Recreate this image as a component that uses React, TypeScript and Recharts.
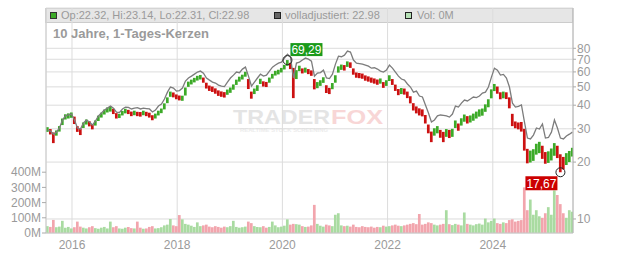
import React from "react";
import {
  ComposedChart,
  Bar,
  Line,
  XAxis,
  YAxis,
  CartesianGrid,
  ReferenceDot,
  Cell,
} from "recharts";

// ---- data (~3-week buckets) ----
const closes = [
  29.6, 28.8, 27.1, 28.5, 29.9, 33.0, 34.6, 35.1, 35.5, 32.6,
  29.6, 29.2, 31.4, 32.6, 31.8, 30.6, 32.2, 34.2, 35.5, 36.8,
  37.7, 38.2, 36.8, 35.1, 35.1, 36.4, 37.3, 36.8, 35.9, 36.4,
  35.9, 35.7, 36.4, 35.9, 35.5, 34.2, 35.1, 36.4, 37.3, 39.6,
  42.6, 45.8, 45.3, 44.2, 43.6, 43.6, 48.1, 51.8, 53.0, 54.3,
  55.7, 56.3, 54.3, 50.5, 49.3, 48.7, 47.5, 46.4, 45.8, 45.3,
  46.9, 48.1, 49.9, 53.0, 55.0, 56.3, 58.4, 50.5, 44.7, 47.5,
  49.3, 53.7, 51.8, 51.5, 54.3, 57.0, 59.1, 59.9, 61.3, 63.6,
  66.8, 64.4, 51.1, 59.1, 62.8, 60.6, 61.3, 60.2, 59.1, 50.5,
  51.1, 52.4, 54.3, 48.1, 47.5, 50.5, 55.0, 62.1, 63.6, 63.2,
  66.0, 65.2, 59.9, 57.7, 57.4, 57.0, 55.7, 55.0, 54.3, 53.7,
  53.0, 53.7, 51.1, 52.4, 55.7, 53.0, 49.3, 46.9, 47.5, 47.2,
  45.3, 42.6, 39.1, 37.7, 36.8, 36.4, 33.4, 29.6, 27.5, 28.8,
  29.6, 28.1, 27.5, 28.5, 28.1, 28.5, 31.8, 30.6, 32.6, 34.2,
  33.4, 33.8, 34.6, 35.5, 36.4, 36.8, 38.6, 41.0, 46.4, 49.9,
  48.1, 44.7, 45.3, 44.9, 40.6, 32.2, 31.4, 31.0, 30.6, 26.2,
  20.8, 21.0, 21.5, 23.2, 23.7, 22.1, 20.8, 21.0, 21.8, 23.2,
  22.6, 19.8, 19.5, 20.8, 21.3, 22.98,
];

const highs = [
  30.6, 29.9, 28.7, 29.4, 31.0, 34.0, 35.8, 36.2, 36.6, 34.8,
  31.0, 30.1, 32.4, 33.6, 32.9, 31.7, 33.2, 35.2, 36.5, 37.9,
  38.9, 39.4, 38.3, 36.3, 36.0, 37.3, 38.3, 37.8, 37.0, 37.4,
  36.9, 36.8, 37.4, 36.9, 36.5, 35.4, 36.1, 37.4, 38.4, 40.9,
  44.0, 47.2, 46.7, 45.6, 45.0, 44.9, 49.6, 53.3, 54.6, 55.8,
  57.2, 57.8, 56.0, 52.6, 50.8, 50.2, 49.1, 47.9, 47.3, 46.9,
  48.4, 49.6, 51.5, 54.6, 56.6, 58.0, 60.1, 55.0, 47.2, 49.0,
  51.0, 55.2, 53.5, 53.1, 56.0, 58.6, 60.8, 61.6, 63.0, 65.4,
  69.29, 67.0, 63.0, 61.3, 64.7, 62.6, 63.2, 62.1, 61.1, 55.0,
  53.0, 54.2, 56.2, 51.0, 49.4, 52.4, 57.6, 64.2, 65.6, 65.2,
  68.2, 67.4, 62.6, 59.6, 59.2, 58.8, 57.5, 56.8, 56.0, 55.4,
  54.7, 55.4, 53.0, 54.2, 57.6, 55.0, 51.4, 48.7, 49.3, 49.0,
  47.2, 44.6, 41.0, 39.4, 38.5, 38.0, 35.5, 31.6, 29.0, 30.2,
  31.0, 29.6, 28.9, 29.9, 29.6, 30.0, 33.2, 32.0, 34.1, 35.7,
  35.0, 35.3, 36.1, 37.0, 38.0, 38.4, 40.4, 43.0, 48.5, 51.8,
  50.2, 46.8, 47.2, 46.8, 44.0, 36.0, 32.8, 32.4, 32.6, 30.0,
  23.5, 23.0, 23.4, 25.0, 25.6, 24.4, 22.6, 22.8, 23.6, 25.2,
  24.4, 22.0, 21.3, 22.3, 22.9, 23.8,
];

const lows = [
  28.9, 28.0, 25.2, 27.6, 29.0, 31.4, 33.6, 34.0, 34.3, 31.8,
  28.9, 27.8, 30.3, 31.6, 30.9, 29.8, 31.2, 33.0, 34.4, 35.7,
  36.6, 37.0, 35.9, 34.0, 34.2, 35.3, 36.2, 35.9, 35.0, 35.4,
  35.0, 34.8, 35.4, 35.0, 34.4, 33.3, 34.0, 35.3, 36.3, 38.0,
  41.0, 44.3, 44.0, 43.0, 42.4, 42.2, 45.0, 50.0, 51.5, 52.8,
  54.0, 54.7, 52.6, 49.0, 47.6, 47.0, 46.0, 44.8, 44.3, 43.9,
  45.4, 46.5, 48.3, 51.2, 53.3, 54.7, 56.6, 48.7, 43.3, 45.8,
  47.6, 51.8, 50.2, 49.9, 52.6, 55.3, 57.4, 58.2, 59.6, 61.8,
  64.6, 62.1, 43.6, 55.0, 60.6, 58.9, 59.5, 58.4, 57.2, 48.5,
  49.2, 50.6, 52.5, 46.4, 45.8, 48.6, 52.6, 59.5, 61.5, 61.0,
  63.8, 63.0, 58.0, 55.9, 55.6, 55.2, 53.9, 53.3, 52.6, 52.0,
  51.3, 52.0, 49.4, 50.6, 53.7, 51.2, 47.6, 45.2, 45.8, 45.5,
  43.6, 40.9, 37.5, 36.2, 35.3, 34.9, 32.0, 28.4, 25.5, 27.6,
  28.4, 26.9, 25.5, 27.2, 26.8, 27.2, 30.3, 29.3, 31.2, 32.7,
  32.0, 32.4, 33.1, 34.0, 34.8, 35.2, 36.9, 39.0, 43.5, 47.5,
  46.0, 43.0, 43.5, 43.1, 38.5, 31.0, 30.2, 29.8, 29.0, 23.0,
  19.7, 19.9, 20.3, 21.9, 22.3, 20.8, 19.6, 19.8, 20.4, 21.6,
  21.0, 17.67, 18.3, 19.3, 20.0, 21.4,
];

const adjusted = [
  29.6, 29.2, 28.1, 28.8, 30.3, 33.4, 35.1, 35.5, 35.9, 33.4,
  30.3, 29.9, 32.2, 33.4, 32.6, 31.4, 33.0, 35.1, 36.4, 37.7,
  38.6, 39.6, 38.6, 36.8, 36.6, 38.2, 39.1, 38.9, 38.2, 38.6,
  38.8, 38.2, 38.6, 38.4, 38.2, 36.8, 37.7, 39.6, 40.6, 43.1,
  46.9, 49.9, 49.3, 47.5, 47.8, 49.3, 53.7, 55.7, 57.0, 58.4,
  59.9, 60.6, 59.1, 55.7, 54.3, 53.0, 52.4, 51.1, 50.5, 50.2,
  53.0, 55.7, 57.7, 59.9, 59.4, 62.1, 63.6, 57.0, 50.5, 53.0,
  55.7, 58.4, 57.0, 57.7, 60.6, 63.6, 65.2, 66.8, 67.6, 71.0,
  74.5, 71.9, 55.7, 66.8, 67.6, 69.3, 71.0, 70.1, 68.4, 57.0,
  59.1, 59.5, 61.3, 55.7, 55.3, 58.4, 66.0, 72.7, 72.2, 73.6,
  77.3, 76.4, 69.3, 66.8, 66.4, 66.0, 65.2, 64.4, 62.8, 63.1,
  62.1, 60.6, 59.9, 61.3, 65.2, 62.8, 59.9, 57.0, 55.0, 54.3,
  51.8, 49.9, 46.9, 47.5, 44.7, 44.2, 40.1, 36.4, 32.6, 33.4,
  35.1, 35.5, 35.3, 35.1, 34.6, 35.9, 39.6, 39.1, 41.0, 42.6,
  42.1, 43.1, 44.2, 43.9, 44.7, 46.4, 46.9, 49.9, 56.3, 62.8,
  61.3, 57.7, 58.2, 55.7, 49.9, 41.0, 39.1, 39.4, 40.1, 32.6,
  26.8, 26.5, 27.8, 30.3, 29.9, 31.8, 26.8, 27.0, 28.8, 33.4,
  30.3, 26.8, 26.5, 27.5, 28.1, 28.8,
];

// volume in millions
const volumes = [
  45, 40, 86, 38, 42, 80, 35, 40, 30, 38,
  75, 42, 35, 30, 38, 45, 32, 28, 35, 40,
  30, 75, 38, 45, 30, 28, 35, 40, 32, 30,
  75, 35, 28, 30, 40, 45, 30, 32, 38, 50,
  55, 92, 50, 45, 118, 90, 60, 55, 48, 40,
  70, 45, 50, 55, 42, 38, 45, 40, 35, 42,
  38, 45, 80, 40, 35, 38, 42, 75, 65, 45,
  40, 38, 45, 35, 40, 75, 50, 38, 42, 48,
  90, 55, 60, 58, 55, 45, 40, 42, 50, 185,
  60, 48, 42, 55, 50, 45, 120, 130, 50, 45,
  48, 42, 55, 40, 38, 45, 40, 38, 42, 35,
  40, 38, 48, 42, 45, 50, 55, 48, 45, 50,
  55, 60, 65, 58, 125, 55, 60, 70, 65, 55,
  50, 55, 60, 150, 58, 52, 60, 55, 50, 135,
  60, 55, 50, 58, 62, 55, 95, 70, 80, 95,
  65, 60, 70, 65, 85, 90, 75, 80, 85, 300,
  150, 220, 120, 150, 110, 100, 130, 170, 120, 280,
  250, 190, 130, 100, 150, 140,
];

const yearTicks = [2016, 2018, 2020, 2022, 2024];
const priceTicks = [10, 20, 30, 40, 50, 60, 70, 80];
const volTicks = [0, 100, 200, 300, 400];

const FIRST_OPEN = 29.4;
const T_START = 2015.534; // date of first bucket (decimal year)
const T_STEP = 0.05703; // bucket length (years)
const X_DOMAIN: [number, number] = [2015.506, 2025.525];
const PRICE_DOMAIN: [number, number] = [8.43, 130.7];
const VOL_DOMAIN: [number, number] = [0, 1480];
const MAX_INDEX = 80;
const MIN_INDEX = 171;
const MAX_LABEL = "69,29";
const MIN_LABEL = "17,67";

const UP = "#3caa28";
const DOWN = "#cc1111";
const VOL_UP = "#a9dba1";
const VOL_DOWN = "#f2a5ad";

const data = closes.map((c, i) => {
  const open = i === 0 ? FIRST_OPEN : closes[i - 1];
  return {
    t: T_START + i * T_STEP,
    range: [lows[i], highs[i]],
    close: c,
    open,
    up: c >= open,
    adj: adjusted[i],
    vol: volumes[i],
  };
});

const FONT = '"Liberation Sans", Arial, Helvetica, sans-serif';

const CandleShape = (props: any) => {
  const { x, y, width, height, payload } = props;
  if (x == null || y == null) return null;
  return (
    <rect
      x={x}
      y={y}
      width={width}
      height={Math.max(height, 1)}
      fill={payload.up ? UP : DOWN}
    />
  );
};

const MaxMarker = (props: any) => {
  const { cx, cy } = props;
  return (
    <g>
      <circle cx={cx} cy={cy} r={4.5} fill="none" stroke="#222" strokeWidth={1} />
      <rect x={cx + 3} y={cy - 17} width={32} height={13} fill="#1a9a1a" />
      <text
        x={cx + 19}
        y={cy - 6.5}
        textAnchor="middle"
        fontSize={12}
        fill="#fff"
        fontFamily={FONT}
      >
        {MAX_LABEL}
      </text>
    </g>
  );
};

const MinMarker = (props: any) => {
  const { cx, cy } = props;
  return (
    <g>
      <circle cx={cx} cy={cy} r={4.5} fill="none" stroke="#222" strokeWidth={1} />
      <rect x={cx - 35} y={cy + 4} width={32} height={14} fill="#cc0000" />
      <text
        x={cx - 19}
        y={cy + 15.5}
        textAnchor="middle"
        fontSize={12}
        fill="#fff"
        fontFamily={FONT}
      >
        {MIN_LABEL}
      </text>
    </g>
  );
};

export default function App() {
  const textGray = "#9a9a9a";
  return (
    <div
      style={{
        position: "absolute",
        left: 0,
        top: 0,
        width: 632,
        height: 253,
        background: "#fff",
        fontFamily: FONT,
      }}
    >
      {/* background layer: header band and watermark */}
      <svg
        width={632}
        height={253}
        style={{ position: "absolute", left: 0, top: 0 }}
      >
        <rect x={45.5} y={8.5} width={527} height={14} fill="#e6e6e6" stroke="#cccccc" />
        <text
          x={233}
          y={123.5}
          fontSize={21}
          fontWeight="bold"
          fill="#e4e4e4"
          textLength={97}
          lengthAdjust="spacingAndGlyphs"
        >
          TRADER
        </text>
        <text
          x={331}
          y={123.5}
          fontSize={21}
          fontWeight="bold"
          fill="#f8d6d6"
          textLength={52}
          lengthAdjust="spacingAndGlyphs"
        >
          FOX
        </text>
        <text
          x={240}
          y={132}
          fontSize={6}
          fontWeight="bold"
          fill="#ececec"
          textLength={88}
          lengthAdjust="spacingAndGlyphs"
        >
          REALTIME STOCK SCREENING
        </text>
      </svg>

      <div style={{ position: "absolute", left: 0, top: 0 }}>
        <ComposedChart
          width={632}
          height={253}
          data={data}
          margin={{ top: 8, right: 0, bottom: 0, left: 0 }}
        >
          <CartesianGrid
            xAxisId="main"
            yAxisId="price"
            stroke="#dcdcdc"
            strokeWidth={1}
          />
          <XAxis
            xAxisId="main"
            dataKey="t"
            type="number"
            domain={X_DOMAIN}
            ticks={yearTicks}
            interval={0}
            allowDataOverflow
            height={20}
            tickLine={false}
            tickSize={0}
            tickMargin={7}
            axisLine={{ stroke: "#c8c8c8" }}
            tick={{ fill: textGray, fontSize: 12 }}
            tickFormatter={(v: number) => String(Math.round(v))}
          />
          <XAxis
            xAxisId="vol"
            dataKey="t"
            type="number"
            domain={X_DOMAIN}
            allowDataOverflow
            hide
          />
          <YAxis
            yAxisId="vol"
            orientation="left"
            width={46}
            domain={VOL_DOMAIN}
            ticks={volTicks}
            interval={0}
            allowDataOverflow
            tickSize={4}
            tickMargin={1}
            tickLine={{ stroke: "#aaaaaa" }}
            axisLine={{ stroke: "#cccccc" }}
            tick={{ fill: textGray, fontSize: 12 }}
            tickFormatter={(v: number) => `${v}M`}
          />
          <YAxis
            yAxisId="price"
            orientation="right"
            width={59}
            scale="log"
            domain={PRICE_DOMAIN}
            ticks={priceTicks}
            interval={0}
            allowDataOverflow
            tickSize={3}
            tickMargin={1}
            tickLine={{ stroke: "#aaaaaa" }}
            axisLine={{ stroke: "#b4b4b4" }}
            tick={{ fill: textGray, fontSize: 12 }}
          />
          <Bar
            xAxisId="vol"
            yAxisId="vol"
            dataKey="vol"
            barSize={3}
            isAnimationActive={false}
          >
            {data.map((d, i) => (
              <Cell key={i} fill={d.up ? VOL_UP : VOL_DOWN} />
            ))}
          </Bar>
          <Bar
            xAxisId="main"
            yAxisId="price"
            dataKey="range"
            barSize={3}
            shape={CandleShape}
            isAnimationActive={false}
          />
          <Line
            xAxisId="main"
            yAxisId="price"
            dataKey="adj"
            type="linear"
            stroke="#7c7c7c"
            strokeWidth={1.3}
            dot={false}
            isAnimationActive={false}
          />
          <ReferenceDot
            xAxisId="main"
            yAxisId="price"
            x={data[MAX_INDEX].t}
            y={highs[MAX_INDEX]}
            ifOverflow="visible"
            shape={MaxMarker}
          />
          <ReferenceDot
            xAxisId="main"
            yAxisId="price"
            x={data[MIN_INDEX].t}
            y={lows[MIN_INDEX]}
            ifOverflow="visible"
            shape={MinMarker}
          />
        </ComposedChart>
      </div>

      {/* overlay layer: header legend and title */}
      <svg
        width={632}
        height={253}
        style={{ position: "absolute", left: 0, top: 0, pointerEvents: "none" }}
      >
        <rect x={50.5} y={12.5} width={6} height={6} fill="#3caa28" stroke="#333" />
        <text x={61} y={19} fontSize={11} fill={textGray}>
          Op:22.32, Hi:23.14, Lo:22.31, Cl:22.98
        </text>
        <rect x={274.5} y={12.5} width={6} height={6} fill="#666" stroke="#222" />
        <text x={285} y={19} fontSize={11} fill={textGray}>
          volladjustiert: 22.98
        </text>
        <rect x={405.5} y={12.5} width={6} height={6} fill="#b5e0b5" stroke="#222" />
        <text x={417} y={19} fontSize={11} fill={textGray}>
          Vol: 0M
        </text>
        <text x={53} y={37.5} fontSize={13} fontWeight="bold" fill={textGray}>
          10 Jahre, 1-Tages-Kerzen
        </text>
      </svg>
    </div>
  );
}
